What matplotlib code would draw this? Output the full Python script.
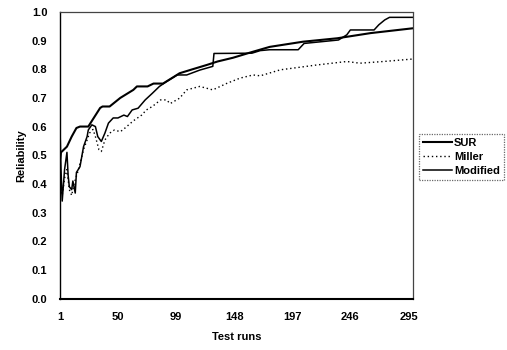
import matplotlib

matplotlib.use("Agg")
import matplotlib.pyplot as plt

# ============================================================
# DATA
# ============================================================

sur_runs = [1, 2, 7, 11, 15, 18, 25, 35, 37, 43, 52, 63, 66, 75, 80, 88,
            97, 102, 113, 125, 134, 147, 163, 178, 206, 235, 263, 299]
sur_rel = [0.48, 0.51, 0.53, 0.565, 0.595, 0.60, 0.60, 0.665, 0.67, 0.67,
           0.70, 0.728, 0.74, 0.74, 0.75, 0.75, 0.773, 0.786, 0.80, 0.815,
           0.827, 0.840, 0.860, 0.878, 0.896, 0.908, 0.926, 0.943]

miller_runs = [1, 3, 5, 7, 9, 11, 13, 14, 16, 18, 21, 24, 26, 29, 31, 34,
               36, 39, 43, 47, 52, 56, 63, 70, 74, 79, 86, 91, 94, 102,
               108, 119, 130, 142, 153, 164, 170, 187, 198, 218, 243, 254,
               274, 297, 299]
miller_rel = [0.40, 0.36, 0.42, 0.45, 0.38, 0.36, 0.40, 0.414, 0.44, 0.47,
              0.52, 0.553, 0.577, 0.59, 0.565, 0.519, 0.513, 0.553, 0.577,
              0.588, 0.582, 0.595, 0.62, 0.64, 0.658, 0.67, 0.693, 0.693,
              0.68, 0.699, 0.728, 0.74, 0.728, 0.751, 0.769, 0.78, 0.777,
              0.798, 0.804, 0.815, 0.827, 0.821, 0.827, 0.835, 0.838]

modified_runs = [1, 2, 3, 5, 7, 8, 9, 11, 12, 14, 15, 18, 21, 24, 25, 28,
                 31, 33, 36, 39, 42, 46, 50, 55, 58, 62, 67, 73, 79, 85,
                 91, 100, 108, 119, 130, 131, 163, 170, 178, 202, 207, 236,
                 243, 246, 266, 270, 275, 279, 299]
modified_rel = [0.62, 0.45, 0.34, 0.45, 0.51, 0.43, 0.39, 0.38, 0.41,
                0.368, 0.44, 0.46, 0.53, 0.565, 0.588, 0.606, 0.60, 0.565,
                0.548, 0.577, 0.612, 0.63, 0.63, 0.64, 0.635, 0.658, 0.664,
                0.693, 0.716, 0.74, 0.757, 0.78, 0.78, 0.797, 0.81, 0.855,
                0.856, 0.865, 0.868, 0.868, 0.89, 0.902, 0.92, 0.937, 0.937,
                0.955, 0.972, 0.981, 0.981]

x_ticks = [1, 50, 99, 148, 197, 246, 295]
y_ticks = [0.0, 0.1, 0.2, 0.3, 0.4, 0.5, 0.6, 0.7, 0.8, 0.9, 1.0]

# ============================================================
# FIGURE
# ============================================================

plt.rcParams["font.family"] = ["Liberation Sans", "DejaVu Sans"]
plt.rcParams["font.weight"] = "bold"
plt.rcParams["font.size"] = 8

figure = plt.figure(figsize=(5.07, 3.5), dpi=100)
axis = figure.add_axes([0.118, 0.147, 0.697, 0.819])

axis.plot(sur_runs, sur_rel, color="black", linewidth=1.5, label="SUR")
axis.plot(miller_runs, miller_rel, color="black", linewidth=1.0,
          linestyle=(0, (1, 2)), label="Miller")
axis.plot(modified_runs, modified_rel, color="black", linewidth=1.1,
          label="Modified")

axis.set_xlim(1, 299)
axis.set_ylim(0, 1.0)
axis.set_xticks(x_ticks)
axis.set_xticklabels([str(t) for t in x_ticks])
axis.set_yticks(y_ticks)
axis.set_yticklabels([f"{t:.1f}" for t in y_ticks])
axis.tick_params(axis="y", length=0, pad=9)
axis.tick_params(axis="x", length=0, pad=10)

axis.set_xlabel("Test runs", fontweight="bold", labelpad=7)
axis.set_ylabel("Reliability", fontweight="bold", labelpad=4)

for side in ("top", "right"):
    axis.spines[side].set_linestyle((0, (1, 1)))
    axis.spines[side].set_color("#444444")
    axis.spines[side].set_linewidth(0.9)
axis.spines["left"].set_linewidth(1.0)
axis.spines["bottom"].set_linewidth(1.5)

legend = axis.legend(
    loc="center left",
    bbox_to_anchor=(0.826, 0.552),
    bbox_transform=figure.transFigure,
    frameon=True,
    fancybox=False,
    handlelength=2.6,
    handletextpad=0.2,
    borderpad=0.35,
    labelspacing=0.35,
    borderaxespad=0,
)
legend.get_frame().set_edgecolor("#444444")
legend.get_frame().set_linestyle((0, (1, 1)))
legend.get_frame().set_linewidth(0.9)

figure.savefig("out.png", dpi=100)
